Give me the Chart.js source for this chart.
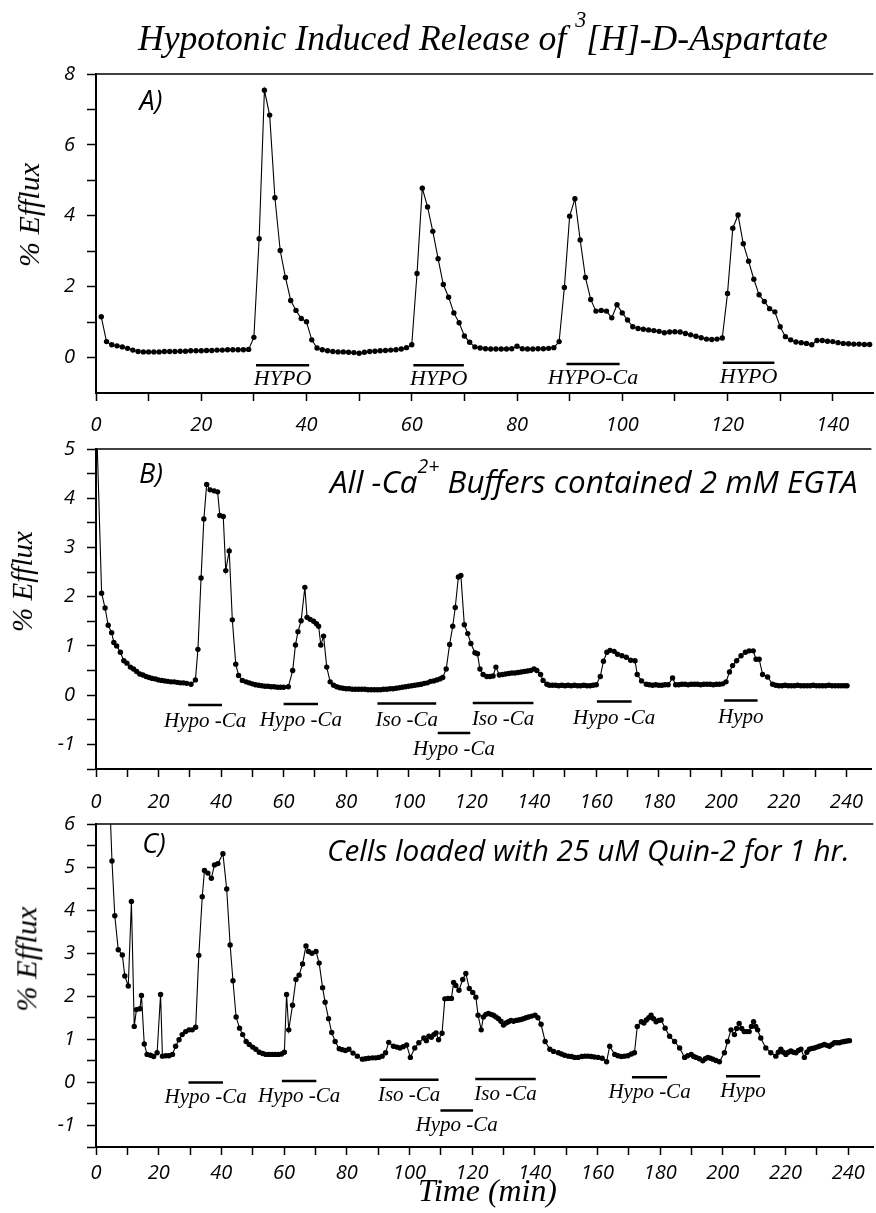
<!DOCTYPE html>
<html><head><meta charset="utf-8">
<script src="https://cdn.jsdelivr.net/npm/chart.js@4.4.1/dist/chart.umd.min.js"></script>
<style>
html,body{margin:0;padding:0;background:#fff;}
body{width:876px;height:1213px;position:relative;overflow:hidden;}
canvas{position:absolute;left:0;}
.t{position:absolute;white-space:nowrap;line-height:1;color:#000;transform-origin:50% 50%;}
.serif{font-family:'Liberation Serif','Times New Roman',serif;font-style:italic;}
.sans{font-family:'Open Sans',sans-serif;font-style:italic;}
.bl{display:inline-block;width:0;height:0;}
.sup{font-size:0.62em;position:relative;top:-1.05em;}
</style></head><body>
<canvas id="cA" width="876" height="395" style="top:50px"></canvas>
<canvas id="cB" width="876" height="390" style="top:425px"></canvas>
<canvas id="cC" width="876" height="413" style="top:800px"></canvas>

<div class="t serif" id="title">Hypotonic Induced Release of <span class="sup">3</span>[H]-D-Aspartate<span class="bl"></span></div>
<div class="t serif" id="yA">% Efflux<span class="bl"></span></div>
<div class="t serif" id="yB">% Efflux<span class="bl"></span></div>
<div class="t serif" id="yC">% Efflux<span class="bl"></span></div>
<div class="t serif" id="xC">Time (min)<span class="bl"></span></div>
<div class="t sans" id="pA">A)<span class="bl"></span></div>
<div class="t sans" id="pB">B)<span class="bl"></span></div>
<div class="t sans" id="pC">C)<span class="bl"></span></div>
<div class="t sans" id="nB">All -Ca<span class="sup">2+</span> Buffers contained 2 mM EGTA<span class="bl"></span></div>
<div class="t sans" id="nC">Cells loaded with 25 uM Quin-2 for 1 hr.<span class="bl"></span></div>

<script>
// ---------------- DATA ----------------
// Panel A: time (min) and % efflux
const aTime = [1,2,3,4,5,6,7,8,9,10,
11,12,13,14,15,16,17,18,19,20,
21,22,23,24,25,26,27,28,29,30,
31,32,33,34,35,36,37,38,39,40,
41,42,43,44,45,46,47,48,49,50,
51,52,53,54,55,56,57,58,59,60,
61,62,63,64,65,66,67,68,69,70,
71,72,73,74,75,76,77,78,79,80,
81,82,83,84,85,86,87,88,89,90,
91,92,93,94,95,96,97,98,99,100,
101,102,103,104,105,106,107,108,109,110,
111,112,113,114,115,116,117,118,119,120,
121,122,123,124,125,126,127,128,129,130,
131,132,133,134,135,136,137,138,139,140,
141,142,143,144,145,146,147];
const aEfflux = [1.15,0.45,0.36,0.33,0.30,0.26,0.21,0.17,0.16,0.16,
0.16,0.16,0.17,0.17,0.17,0.18,0.18,0.19,0.19,0.19,
0.20,0.20,0.21,0.21,0.22,0.22,0.22,0.22,0.23,0.57,
3.35,7.54,6.84,4.51,3.02,2.26,1.61,1.33,1.10,1.01,
0.50,0.27,0.22,0.19,0.17,0.16,0.16,0.15,0.14,0.12,
0.15,0.17,0.18,0.19,0.20,0.21,0.22,0.24,0.28,0.36,
2.37,4.78,4.25,3.56,2.79,2.06,1.70,1.26,0.98,0.61,
0.43,0.30,0.27,0.25,0.24,0.24,0.24,0.24,0.25,0.32,
0.25,0.24,0.24,0.25,0.25,0.26,0.28,0.45,1.98,3.99,
4.48,3.32,2.26,1.64,1.31,1.33,1.31,1.12,1.49,1.26,
1.06,0.87,0.82,0.80,0.78,0.76,0.74,0.70,0.72,0.73,
0.72,0.68,0.64,0.60,0.56,0.52,0.51,0.52,0.55,1.81,
3.65,4.02,3.21,2.72,2.21,1.77,1.58,1.38,1.29,0.87,
0.59,0.50,0.44,0.42,0.40,0.36,0.48,0.48,0.46,0.45,
0.42,0.40,0.39,0.38,0.38,0.37,0.37];

// Panel B
const bTime = [0,1.8,2.9,3.9,5,5.7,6.6,7.8,8.9,9.9,
11,12,13,14,15,16,17,18,19,20,
21,22,23,24,25,26,27,28,29,30.4,
31.8,32.6,33.6,34.5,35.4,36.5,37.8,38.9,39.6,40.7,
41.5,42.6,43.6,44.7,45.6,46.8,48,49,50,51,
52,53,54,55,56,57,58,59,60,61.5,
62.9,63.8,64.6,65.6,66.8,67.5,68.5,69.6,70.5,71.2,
71.9,72.8,73.8,74.9,76,77,78,79,80,81,
82,83,84,85,86,87,88,89,90,91,
92,93,94,95,96,97,98,99,100,101,
102,103,104,105,106,107,108,109,110,110.9,
112,113.1,114.1,114.9,115.9,116.7,117.8,118.9,119.9,121.2,
122,122.8,123.8,125,126,127,127.9,129,130,131,
132,133,134,135,136,137,138,139,140.1,141,
142.2,143,144.2,145,146,147,148,149,150,151,
152,153,154,155,156,157,158,159,160,161.3,
162.3,163.4,164.4,165.7,166.8,168.2,169.6,171,172.4,173.1,
174.5,176,177,178,179,180,181,182,183,184.4,
185.4,186.4,187.4,188.4,189.4,190.4,191.4,192.4,193.4,194.4,
195.4,196.4,197.4,198.4,199.4,200.4,201.5,202.6,203.6,204.9,
206.3,207.7,208.9,210.2,211.1,212.1,213.2,214.8,216.4,217.4,
218.4,219.4,220.4,221.4,222.4,223.4,224.4,225.4,226.4,227.4,
228.4,229.4,230.4,231.4,232.4,233.4,234.4,235.4,236.4,237.4,
238.4,239.4,240.2];
const bEfflux = [5.9,2.07,1.77,1.42,1.27,1.07,1.00,0.87,0.70,0.65,
0.57,0.53,0.48,0.43,0.41,0.38,0.36,0.34,0.33,0.31,
0.30,0.29,0.28,0.27,0.27,0.26,0.25,0.25,0.24,0.22,
0.31,0.93,2.38,3.58,4.28,4.17,4.15,4.13,3.65,3.63,
2.53,2.93,1.53,0.63,0.40,0.30,0.27,0.25,0.23,0.21,
0.20,0.19,0.18,0.18,0.17,0.17,0.16,0.16,0.16,0.17,
0.50,1.02,1.29,1.51,2.19,1.58,1.54,1.50,1.45,1.40,
1.02,1.20,0.57,0.27,0.20,0.17,0.15,0.14,0.13,0.13,
0.12,0.12,0.12,0.12,0.12,0.11,0.11,0.11,0.11,0.11,
0.12,0.12,0.13,0.13,0.14,0.15,0.16,0.17,0.18,0.19,
0.20,0.21,0.22,0.24,0.25,0.28,0.29,0.31,0.33,0.36,
0.53,1.03,1.40,1.78,2.40,2.43,1.43,1.25,1.05,0.86,
0.84,0.53,0.42,0.38,0.38,0.39,0.57,0.41,0.42,0.43,
0.44,0.45,0.45,0.46,0.47,0.48,0.49,0.50,0.53,0.50,
0.42,0.30,0.22,0.20,0.20,0.20,0.19,0.20,0.19,0.20,
0.19,0.20,0.19,0.19,0.20,0.19,0.19,0.20,0.21,0.38,
0.69,0.87,0.91,0.89,0.83,0.80,0.77,0.71,0.70,0.42,
0.29,0.22,0.21,0.20,0.21,0.20,0.20,0.21,0.21,0.35,
0.21,0.21,0.22,0.22,0.21,0.22,0.22,0.22,0.21,0.22,
0.22,0.22,0.21,0.22,0.22,0.23,0.27,0.47,0.60,0.70,
0.80,0.87,0.90,0.90,0.73,0.73,0.42,0.37,0.22,0.20,
0.19,0.19,0.20,0.19,0.19,0.19,0.20,0.19,0.19,0.19,
0.19,0.20,0.19,0.19,0.19,0.19,0.20,0.19,0.19,0.19,
0.19,0.19,0.19];

// Panel C
const cTime = [4,5.1,6,7.1,8.4,9.2,10.3,11.3,12.2,12.9,
14,14.5,15.4,16.3,17.4,18.4,19.5,20.6,21.2,22.3,
23.3,24.4,25.4,26.5,27.5,28.6,29.7,30.7,31.8,32.8,
33.9,34.6,35.7,36.8,37.8,38.9,40.5,41.7,42.8,43.7,
44.7,45.8,46.8,47.9,48.9,50,51,52.1,53.2,54.2,
55.2,56.2,57.2,58.2,59.2,60.1,60.8,61.5,62.7,63.8,
64.8,65.9,67,67.8,68.9,70.2,71.2,72.3,73.1,74.2,
75.2,76.3,77.6,78.6,79.6,80.7,82,83.4,85,86,
87,88.2,89.2,90.2,91.3,92.4,93.4,94.9,96,97,
98,99.1,100.3,101.7,103,104.6,105.4,106.2,107,107.8,
108.5,109.3,110.4,111.3,112.3,113.4,114.1,114.8,115.8,117,
118,119.1,120.2,121.2,121.9,122.9,123.6,124.4,125.2,126,
126.8,127.6,128.4,129.2,130,130.8,131.6,132.4,133.2,134,
134.8,135.6,136.4,137.2,138,139,140.1,141,142,143.3,
144.8,146,147.5,148.5,149.5,150.7,151.7,152.7,153.8,155,
156,157,158,159,160.2,161.5,162.9,163.9,165.5,166.5,
167.6,168.6,169.7,170.8,171.8,172.7,174,174.8,175.6,176.4,
177.1,177.9,178.7,179.5,180.3,181.6,183,184.6,186.2,187.8,
188.8,189.9,190.7,191.5,192.5,193.6,194.4,195.2,196,196.8,
197.8,198.9,200.5,201.5,202.6,203.7,204.4,205.2,206,206.8,
207.6,208.4,209.1,209.8,210.5,211.1,212.1,213.7,215.3,216.9,
217.7,218.5,219.3,220.1,220.9,221.7,222.5,223.3,224.1,224.9,
226,226.8,227.6,228.4,229.2,230,230.8,231.6,232.4,233.2,
234,234.8,235.6,236.4,237.2,238,238.8,239.6,240.4];
const cEfflux = [7.3,5.14,3.87,3.08,2.96,2.47,2.24,4.20,1.30,1.69,
1.71,2.02,0.89,0.65,0.63,0.60,0.69,2.04,0.61,0.62,
0.62,0.65,0.84,0.99,1.11,1.18,1.22,1.22,1.28,2.95,
4.31,4.92,4.86,4.74,5.05,5.08,5.31,4.49,3.19,2.36,
1.52,1.26,1.11,0.95,0.88,0.82,0.77,0.70,0.67,0.65,
0.65,0.65,0.65,0.65,0.66,0.70,2.04,1.22,1.79,2.39,
2.49,2.75,3.17,3.04,3.00,3.04,2.77,2.20,1.86,1.48,
1.16,0.95,0.78,0.76,0.74,0.77,0.68,0.61,0.54,0.55,
0.56,0.57,0.57,0.58,0.61,0.69,0.93,0.84,0.82,0.80,
0.83,0.87,0.58,0.80,0.92,1.03,0.97,1.07,1.05,1.11,
1.15,0.99,1.14,1.94,1.95,1.95,2.32,2.25,2.14,2.39,
2.53,2.18,2.09,1.98,1.56,1.22,1.52,1.58,1.60,1.58,
1.56,1.52,1.48,1.42,1.33,1.38,1.41,1.44,1.42,1.44,
1.45,1.46,1.48,1.50,1.52,1.54,1.56,1.50,1.35,0.95,
0.77,0.72,0.69,0.66,0.63,0.61,0.60,0.58,0.58,0.60,
0.61,0.61,0.60,0.59,0.58,0.56,0.48,0.84,0.65,0.62,
0.60,0.61,0.62,0.66,0.69,1.30,1.41,1.38,1.45,1.50,
1.56,1.48,1.41,1.44,1.45,1.26,1.07,0.95,0.80,0.58,
0.62,0.65,0.60,0.58,0.55,0.50,0.55,0.58,0.56,0.54,
0.51,0.48,0.69,0.95,1.22,1.11,1.25,1.37,1.25,1.18,
1.18,1.18,1.30,1.41,1.30,1.22,1.03,0.80,0.69,0.61,
0.70,0.77,0.70,0.65,0.70,0.73,0.70,0.69,0.74,0.77,
0.58,0.70,0.77,0.79,0.80,0.82,0.84,0.86,0.88,0.86,
0.84,0.88,0.92,0.92,0.92,0.94,0.95,0.96,0.97];

// Treatment bars (time intervals) and their labels
const aBarLabel = ['HYPO','HYPO','HYPO-Ca','HYPO'];
const aBarStart = [30.4,60.3,89.4,119.1];
const aBarEnd   = [40.5,69.9,99.5,128.9];
const aBarLevel = [-0.22,-0.22,-0.18,-0.15];

const bBarLabel = ['Hypo -Ca','Hypo -Ca','Iso -Ca','Hypo -Ca','Iso -Ca','Hypo -Ca','Hypo'];
const bBarStart = [29.5,60,90,109.3,120.5,160.2,200.9];
const bBarEnd   = [40.3,71,108.8,119.7,139.9,171.3,211.6];
const bBarLevel = [-0.2,-0.18,-0.17,-0.77,-0.16,-0.13,-0.11];

const cBarLabel = ['Hypo -Ca','Hypo -Ca','Iso -Ca','Hypo -Ca','Iso -Ca','Hypo -Ca','Hypo'];
const cBarStart = [29.5,59.3,90.5,109.9,121,171,201];
const cBarEnd   = [40.5,70.3,109.3,120.3,140.3,182.2,211.9];
const cBarLevel = [0.0,0.03,0.06,-0.65,0.08,0.12,0.14];

// Tick values and labels
const aXTicks = [0,10,20,30,40,50,60,70,80,90,100,110,120,130,140];
const aXLabels = [0,20,40,60,80,100,120,140];
const bcXTicks = [0,10,20,30,40,50,60,70,80,90,100,110,120,130,140,150,160,170,180,190,200,210,220,230,240];
const bcXLabels = [0,20,40,60,80,100,120,140,160,180,200,220,240];
const aYTicks = [0,1,2,3,4,5,6,7,8];
const aYLabels = [0,2,4,6,8];
const bYTicks = [-1.5,-1,-0.5,0,0.5,1,1.5,2,2.5,3,3.5,4,4.5,5];
const bYLabels = [-1,0,1,2,3,4,5];
const cYTicks = [-1.5,-1,-0.5,0,0.5,1,1.5,2,2.5,3,3.5,4,4.5,5,5.5,6];
const cYLabels = [-1,0,1,2,3,4,5,6];

// ---------------- CHARTS ----------------
Chart.defaults.font.family = "'Open Sans', sans-serif";
const TICK_FONT = {family:"'Open Sans', sans-serif", size:20, style:'italic'};

function annotPlugin(labels, start, end, level, gap, font) {
  return {
    id: 'annot',
    afterDatasetsDraw(chart) {
      const {ctx, chartArea: ca, scales: {x, y}} = chart;
      ctx.save();
      ctx.strokeStyle = '#000'; ctx.fillStyle = '#000';
      ctx.lineWidth = 1.5;
      ctx.beginPath(); ctx.moveTo(ca.left, ca.top); ctx.lineTo(ca.right, ca.top); ctx.stroke();
      ctx.font = font; ctx.textAlign = 'center'; ctx.textBaseline = 'alphabetic';
      labels.forEach((lab, i) => {
        const x1 = x.getPixelForValue(start[i]), x2 = x.getPixelForValue(end[i]);
        const yy = y.getPixelForValue(level[i]);
        ctx.lineWidth = 2.5;
        ctx.beginPath(); ctx.moveTo(x1, yy); ctx.lineTo(x2, yy); ctx.stroke();
        ctx.fillText(lab, (x1 + x2) / 2, yy + gap);
      });
      ctx.restore();
    }
  };
}

function makeChart(id, c) {
  return new Chart(document.getElementById(id), {
    type: 'line',
    data: {datasets: [{
      data: c.times.map((t, i) => ({x: t, y: c.vals[i]})),
      borderColor: '#000', borderWidth: 1.1, tension: 0, fill: false,
      pointRadius: 2.7, pointHoverRadius: 2.7, pointBackgroundColor: '#000', pointBorderWidth: 0
    }]},
    options: {
      responsive: false, animation: false, devicePixelRatio: 1, events: [],
      layout: {padding: {top: c.padTop, left: 0, right: 0, bottom: 0}},
      plugins: {legend: {display: false}, tooltip: {enabled: false}},
      scales: {
        x: {
          type: 'linear', min: 0, max: c.xMax,
          afterBuildTicks: s => { s.ticks = c.xTicks.map(v => ({value: v})); },
          afterFit: s => { s.height = c.xH; },
          grid: {drawOnChartArea: false, drawTicks: true, tickLength: 8, tickColor: '#000', tickWidth: 1.5},
          border: {display: true, color: '#000', width: 2},
          ticks: {autoSkip: false, maxRotation: 0, minRotation: 0, color: '#000', padding: c.xPad, font: TICK_FONT,
                  callback: v => c.xLabels.includes(v) ? String(v) : ''}
        },
        y: {
          type: 'linear', min: c.yMin, max: c.yMax,
          afterBuildTicks: s => { s.ticks = c.yTicks.map(v => ({value: v})); },
          afterFit: s => { s.width = 96; },
          grid: {drawOnChartArea: false, drawTicks: true, tickLength: 9, tickColor: '#000', tickWidth: 1.5},
          border: {display: true, color: '#000', width: 2},
          ticks: {autoSkip: false, color: '#000', padding: 12, font: TICK_FONT,
                  callback: v => c.yLabels.includes(v) ? String(v) : ''}
        }
      }
    },
    plugins: [annotPlugin(c.barLabel, c.barStart, c.barEnd, c.barLevel, c.gap, c.barFont)]
  });
}

makeChart('cA', {times: aTime, vals: aEfflux, padTop: 19, xMax: 147.7, xH: 52, xPad: 12,
  xTicks: aXTicks, xLabels: aXLabels, yMin: -1, yMax: 8, yTicks: aYTicks, yLabels: aYLabels,
  barLabel: aBarLabel, barStart: aBarStart, barEnd: aBarEnd, barLevel: aBarLevel, gap: 20,
  barFont: "italic 22px 'Liberation Serif'"});
makeChart('cB', {times: bTime, vals: bEfflux, padTop: 20, xMax: 248, xH: 46, xPad: 13,
  xTicks: bcXTicks, xLabels: bcXLabels, yMin: -1.5, yMax: 5, yTicks: bYTicks, yLabels: bYLabels,
  barLabel: bBarLabel, barStart: bBarStart, barEnd: bBarEnd, barLevel: bBarLevel, gap: 22,
  barFont: "italic 21px 'Liberation Serif'"});
makeChart('cC', {times: cTime, vals: cEfflux, padTop: 19, xMax: 248, xH: 66, xPad: 6,
  xTicks: bcXTicks, xLabels: bcXLabels, yMin: -1.5, yMax: 6, yTicks: cYTicks, yLabels: cYLabels,
  barLabel: cBarLabel, barStart: cBarStart, barEnd: cBarEnd, barLevel: cBarLevel, gap: 21,
  barFont: "italic 21px 'Liberation Serif'"});

// ---------------- TEXT PLACEMENT ----------------
function place(id, o) {
  const el = document.getElementById(id);
  el.style.left = '0px'; el.style.top = '0px'; el.style.transform = 'none';
  el.style.fontSize = o.size + 'px';
  if (o.len) {
    const w = el.getBoundingClientRect().width;
    el.style.fontSize = (o.size * o.len / w) + 'px';
  }
  const r = el.getBoundingClientRect();
  if (o.rot) {
    el.style.left = (o.cx - r.width / 2) + 'px';
    el.style.top = (o.cy - r.height / 2) + 'px';
    el.style.transform = 'rotate(-90deg)';
    return;
  }
  const b = el.querySelector('.bl').getBoundingClientRect().top;
  const left = (o.x1 !== undefined) ? o.x1 : (o.cx - r.width / 2);
  el.style.left = left + 'px';
  el.style.top = (o.base - b) + 'px';
}
function layoutText() {
  place('title', {size: 34, len: 690, x1: 138, base: 50});
  place('yA', {size: 28, len: 104, rot: true, cx: 28.5, cy: 215});
  place('yB', {size: 28, len: 101, rot: true, cx: 22.5, cy: 582});
  place('yC', {size: 28, len: 105, rot: true, cx: 26.5, cy: 959});
  place('xC', {size: 28, len: 139, x1: 418, base: 1201});
  place('pA', {size: 27, cx: 151, base: 110});
  place('pB', {size: 27, cx: 151, base: 483});
  place('pC', {size: 27, cx: 154, base: 853});
  place('nB', {size: 24, len: 528, x1: 330, base: 493});
  place('nC', {size: 24, len: 523, x1: 327, base: 861});
}
layoutText();
if (document.fonts && document.fonts.ready) document.fonts.ready.then(layoutText);
</script>
</body></html>
